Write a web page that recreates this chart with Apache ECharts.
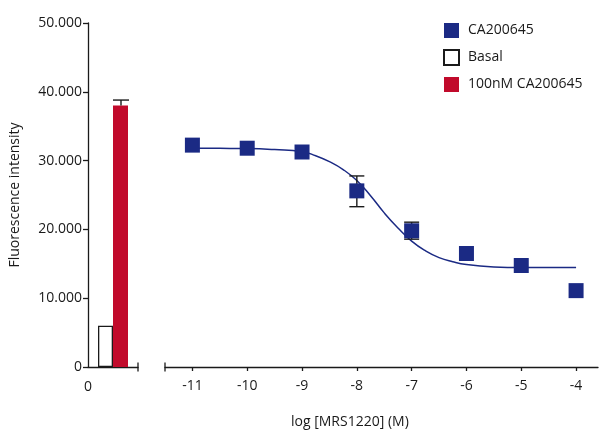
<!DOCTYPE html>
<html><head><meta charset="utf-8">
<script src="https://cdn.jsdelivr.net/npm/echarts@6/dist/echarts.min.js"></script>
<style>html,body{margin:0;padding:0;background:#fff}#c{width:600px;height:435px}</style>
</head><body><div id="c"></div>
<script>
// Dose-response points (log M) and fluorescence means
const doseLog = [-11, -10, -9, -8, -7, -6, -5, -4];
const doseMean = [32250, 31800, 31250, 25600, 19800, 16500, 14750, 11100];
const doseErrLow = [null, null, null, 23300, 18580, null, null, null];
const doseErrHigh = [null, null, null, 27770, 21050, null, null, null];
// Fitted curve
const curveLog = [-11, -10.5, -10, -9.5, -9, -8.75, -8.5, -8.25, -8, -7.75, -7.5, -7.25, -7, -6.75, -6.5, -6.25, -6, -5.5, -5, -4.5, -4];
const curveVal = [31800, 31780, 31750, 31600, 31300, 30700, 29850, 28700, 27100, 24900, 22400, 20200, 18300, 16900, 15900, 15300, 14900, 14550, 14450, 14450, 14450];
// Control bars
const basalValue = 6000;
const stimValue = 38000;
const stimErrHigh = 38800;
// Tick labels
const xTickValues = [-11, -10, -9, -8, -7, -6, -5, -4];
const yTickValues = [0, 10000, 20000, 30000, 40000, 50000];

const BLUE = '#1b2a84', RED = '#c10a2b', INK = '#1a1a1a';
const FONT = 'Open Sans';

function fmtThousands(v) {
  if (v === 0) return '0';
  const s = String(Math.round(v));
  return s.replace(/\B(?=(\d{3})+(?!\d))/g, '.');
}

const chart = echarts.init(document.getElementById('c'), null, {renderer: 'canvas'});

const scatterData = doseLog.map((x, i) => [x, doseMean[i]]);
const errData = doseLog.map((x, i) => [x, doseErrLow[i], doseErrHigh[i]]).filter(d => d[1] != null);
const curveData = curveLog.map((x, i) => [x, curveVal[i]]);

const axisLineStyle = {color: INK, width: 1.3};

chart.setOption({
  animation: false,
  textStyle: {fontFamily: FONT},
  title: {
    text: 'log [MRS1220] (M)',
    left: 286, top: 410,
    textStyle: {fontSize: 14, fontWeight: 'normal', color: INK, fontFamily: FONT}
  },
  legend: {
    orient: 'vertical', left: 443, top: 23,
    itemWidth: 15, itemHeight: 15, itemGap: 11,
    icon: 'rect',
    padding: 0,
    data: ['CA200645', 'Basal', '100nM CA200645'],
    textStyle: {fontSize: 14, color: INK, fontFamily: FONT, padding: [0, 0, 0, 4]}
  },
  grid: [
    {left: 88, right: 462, top: 23, bottom: 68},
    {left: 165, right: 2, top: 23, bottom: 68}
  ],
  xAxis: [
    {
      gridIndex: 0, type: 'value', min: 0, max: 2,
      splitLine: {show: false},
      axisLine: {show: true, lineStyle: axisLineStyle, symbol: ['none', 'rect'], symbolSize: [9, 1.3]},
      axisTick: {show: false},
      axisLabel: {customValues: [0], formatter: v => String(v), fontSize: 14, color: INK, margin: 13}
    },
    {
      gridIndex: 1, type: 'value', min: -11.5, max: -3.6,
      splitLine: {show: false},
      axisLine: {show: true, lineStyle: axisLineStyle, symbol: ['rect', 'none'], symbolSize: [9, 1.3]},
      axisTick: {show: true, customValues: xTickValues, length: 4, lineStyle: axisLineStyle},
      axisLabel: {customValues: xTickValues, formatter: v => String(v), fontSize: 14, color: INK, margin: 12}
    }
  ],
  yAxis: [
    {
      gridIndex: 0, type: 'value', min: 0, max: 50000,
      splitLine: {show: false},
      axisLine: {show: true, lineStyle: axisLineStyle},
      axisTick: {show: true, customValues: yTickValues, length: 5, lineStyle: axisLineStyle},
      axisLabel: {customValues: yTickValues, formatter: fmtThousands, fontSize: 14, color: INK, margin: 6},
      name: 'Fluorescence intensity', nameLocation: 'middle', nameGap: 66,
      nameTextStyle: {fontSize: 14, color: INK, fontFamily: FONT}
    },
    {
      gridIndex: 1, type: 'value', min: 0, max: 50000, show: false
    }
  ],
  series: [
    {
      name: 'Basal', type: 'bar', xAxisIndex: 0, yAxisIndex: 0,
      barWidth: 15, barGap: '0%',
      itemStyle: {color: '#ffffff', borderColor: INK, borderWidth: 1.3},
      data: [[1, basalValue]]
    },
    {
      name: '100nM CA200645', type: 'bar', xAxisIndex: 0, yAxisIndex: 0,
      barWidth: 15, barGap: '0%',
      itemStyle: {color: RED},
      data: [[1, stimValue]]
    },
    {
      name: 'stimErr', type: 'custom', xAxisIndex: 0, yAxisIndex: 0, z: 3,
      data: [[1, stimValue, stimErrHigh]],
      renderItem: function (params, api) {
        const base = api.coord([api.value(0), api.value(1)]);
        const top = api.coord([api.value(0), api.value(2)]);
        const cx = base[0] + 8;
        const st = {stroke: INK, lineWidth: 1.4};
        return {type: 'group', children: [
          {type: 'line', shape: {x1: cx, y1: base[1], x2: cx, y2: top[1]}, style: st},
          {type: 'line', shape: {x1: cx - 8, y1: top[1], x2: cx + 8, y2: top[1]}, style: st}
        ]};
      }
    },
    {
      name: 'fit', type: 'line', xAxisIndex: 1, yAxisIndex: 1,
      smooth: true, showSymbol: false, symbol: 'none', z: 2,
      lineStyle: {color: BLUE, width: 1.5},
      data: curveData
    },
    {
      name: 'doseErr', type: 'custom', xAxisIndex: 1, yAxisIndex: 1, z: 3,
      data: errData,
      renderItem: function (params, api) {
        const lo = api.coord([api.value(0), api.value(1)]);
        const hi = api.coord([api.value(0), api.value(2)]);
        const st = {stroke: INK, lineWidth: 1.4};
        const w = 7.5;
        return {type: 'group', children: [
          {type: 'line', shape: {x1: lo[0], y1: lo[1], x2: hi[0], y2: hi[1]}, style: st},
          {type: 'line', shape: {x1: lo[0] - w, y1: lo[1], x2: lo[0] + w, y2: lo[1]}, style: st},
          {type: 'line', shape: {x1: hi[0] - w, y1: hi[1], x2: hi[0] + w, y2: hi[1]}, style: st}
        ]};
      }
    },
    {
      name: 'CA200645', type: 'scatter', xAxisIndex: 1, yAxisIndex: 1, z: 4,
      symbol: 'rect', symbolSize: 15,
      itemStyle: {color: BLUE, opacity: 1},
      data: scatterData
    }
  ]
});
</script>
</body></html>
